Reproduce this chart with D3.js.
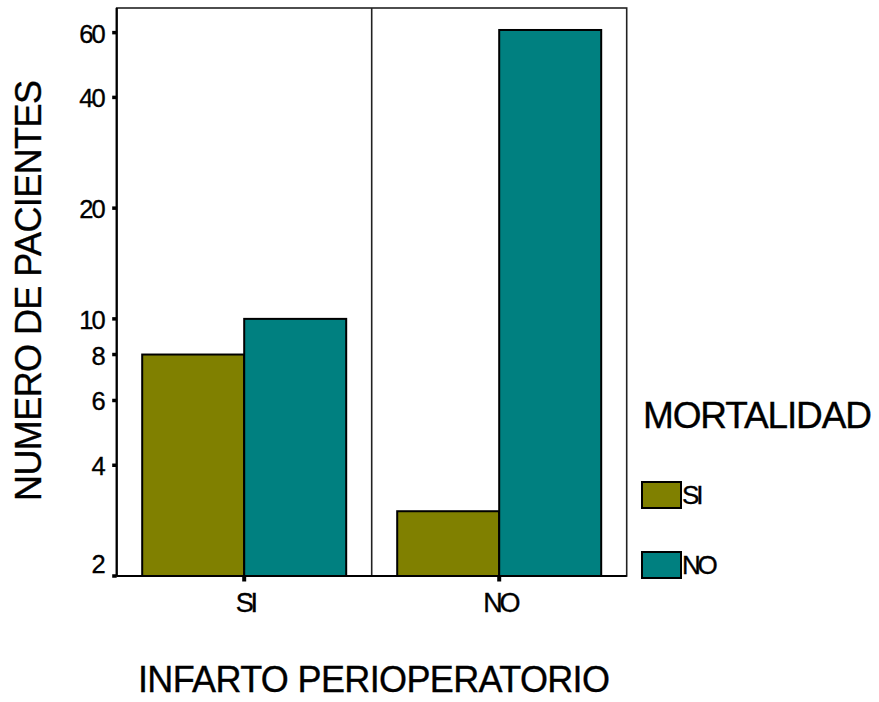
<!DOCTYPE html>
<html>
<head>
<meta charset="utf-8">
<script src="https://cdn.jsdelivr.net/npm/d3@7"></script>
<style>
  html, body { margin: 0; padding: 0; background: #fff; }
  svg { display: block; font-family: "Liberation Sans", Arial, sans-serif; }
  svg text { stroke: #000; stroke-width: 0.35px; }
</style>
</head>
<body>
<svg id="chart" width="879" height="702"></svg>
<script>
// Groups on the x axis (INFARTO PERIOPERATORIO) and series (MORTALIDAD)
const categories = ["SI", "NO"];
const seriesNames = ["SI", "NO"];
const mortalidadSI = [8, 3];
const mortalidadNO = [10, 61];
const yTickValues = [2, 4, 6, 8, 10, 20, 40, 60];
const seriesColors = ["#808000", "#008080"];

const svg = d3.select("#chart");
const plot = { left: 116.7, right: 626.7, top: 8, bottom: 576 };

const x = d3.scaleBand().domain(categories).range([plot.left, plot.right]).padding(0);
const xInner = d3.scaleBand().domain(seriesNames).range([0, x.bandwidth()])
  .paddingInner(0).paddingOuter(0.25);
const y = d3.scaleLog().domain([2, 70]).range([plot.bottom, plot.top]);
const color = d3.scaleOrdinal().domain(seriesNames).range(seriesColors);

const rows = categories.map((c, i) => ({
  cat: c,
  vals: [{ s: "SI", v: mortalidadSI[i] }, { s: "NO", v: mortalidadNO[i] }]
}));

// Frame and panel divider
svg.append("rect")
  .attr("x", plot.left).attr("y", plot.top)
  .attr("width", plot.right - plot.left).attr("height", plot.bottom - plot.top)
  .attr("fill", "none").attr("stroke", "#222").attr("stroke-width", 1.6);
svg.append("line")
  .attr("x1", x("NO")).attr("x2", x("NO"))
  .attr("y1", plot.top).attr("y2", plot.bottom)
  .attr("stroke", "#222").attr("stroke-width", 1.6);

// Bars
const groups = svg.selectAll("g.group").data(rows).join("g")
  .attr("class", "group")
  .attr("transform", d => `translate(${x(d.cat)},0)`);
groups.selectAll("rect").data(d => d.vals).join("rect")
  .attr("x", d => xInner(d.s))
  .attr("width", xInner.bandwidth())
  .attr("y", d => y(d.v))
  .attr("height", d => y(2) - y(d.v))
  .attr("fill", d => color(d.s))
  .attr("stroke", "#000").attr("stroke-width", 2);

// Axes lines
svg.append("line")
  .attr("x1", plot.left).attr("x2", plot.left)
  .attr("y1", plot.top).attr("y2", plot.bottom)
  .attr("stroke", "#000").attr("stroke-width", 2.2);
svg.append("line")
  .attr("x1", plot.left).attr("x2", plot.right)
  .attr("y1", plot.bottom).attr("y2", plot.bottom)
  .attr("stroke", "#000").attr("stroke-width", 2.2);

// Y ticks
const yAxis = svg.append("g");
yTickValues.forEach(v => {
  const ty = y(v);
  yAxis.append("line")
    .attr("x1", plot.left - 4.5).attr("x2", plot.left)
    .attr("y1", ty).attr("y2", ty)
    .attr("stroke", "#000").attr("stroke-width", 3.5);
  yAxis.append("text")
    .attr("x", 104).attr("y", Math.min(ty + 10, 573))
    .attr("text-anchor", "end")
    .attr("font-size", 25.5)
    .attr("letter-spacing", -1.8)
    .attr("fill", "#000")
    .text(v);
});

// X ticks
const xAxis = svg.append("g");
categories.forEach(c => {
  const cx = x(c) + x.bandwidth() / 2;
  xAxis.append("line")
    .attr("x1", cx).attr("x2", cx)
    .attr("y1", plot.bottom).attr("y2", plot.bottom + 5.5)
    .attr("stroke", "#000").attr("stroke-width", 4);
  xAxis.append("text")
    .attr("x", cx + 1).attr("y", 612)
    .attr("text-anchor", "middle")
    .attr("font-size", 27)
    .attr("letter-spacing", -3.2)
    .attr("fill", "#000")
    .text(c);
});

// Axis titles
svg.append("text")
  .attr("x", 138).attr("y", 692)
  .attr("font-size", 36)
  .attr("textLength", 472).attr("lengthAdjust", "spacing")
  .attr("fill", "#000")
  .text("INFARTO PERIOPERATORIO");

svg.append("text")
  .attr("transform", "translate(41,501) rotate(-90)")
  .attr("font-size", 36)
  .attr("textLength", 421).attr("lengthAdjust", "spacing")
  .attr("fill", "#000")
  .text("NUMERO DE PACIENTES");

// Legend
const legend = svg.append("g");
legend.append("text")
  .attr("x", 643).attr("y", 428)
  .attr("font-size", 37)
  .attr("textLength", 229).attr("lengthAdjust", "spacing")
  .attr("fill", "#000")
  .text("MORTALIDAD");

const legendY = d3.scalePoint().domain(seriesNames).range([482, 552]);
seriesNames.forEach(s => {
  const ly = legendY(s);
  legend.append("rect")
    .attr("x", 642).attr("y", ly)
    .attr("width", 39).attr("height", 26)
    .attr("fill", color(s))
    .attr("stroke", "#000").attr("stroke-width", 2);
  legend.append("text")
    .attr("x", 682).attr("y", ly + 21.5)
    .attr("font-size", 26)
    .attr("letter-spacing", -3.2)
    .attr("fill", "#000")
    .text(s);
});
</script>
</body>
</html>
